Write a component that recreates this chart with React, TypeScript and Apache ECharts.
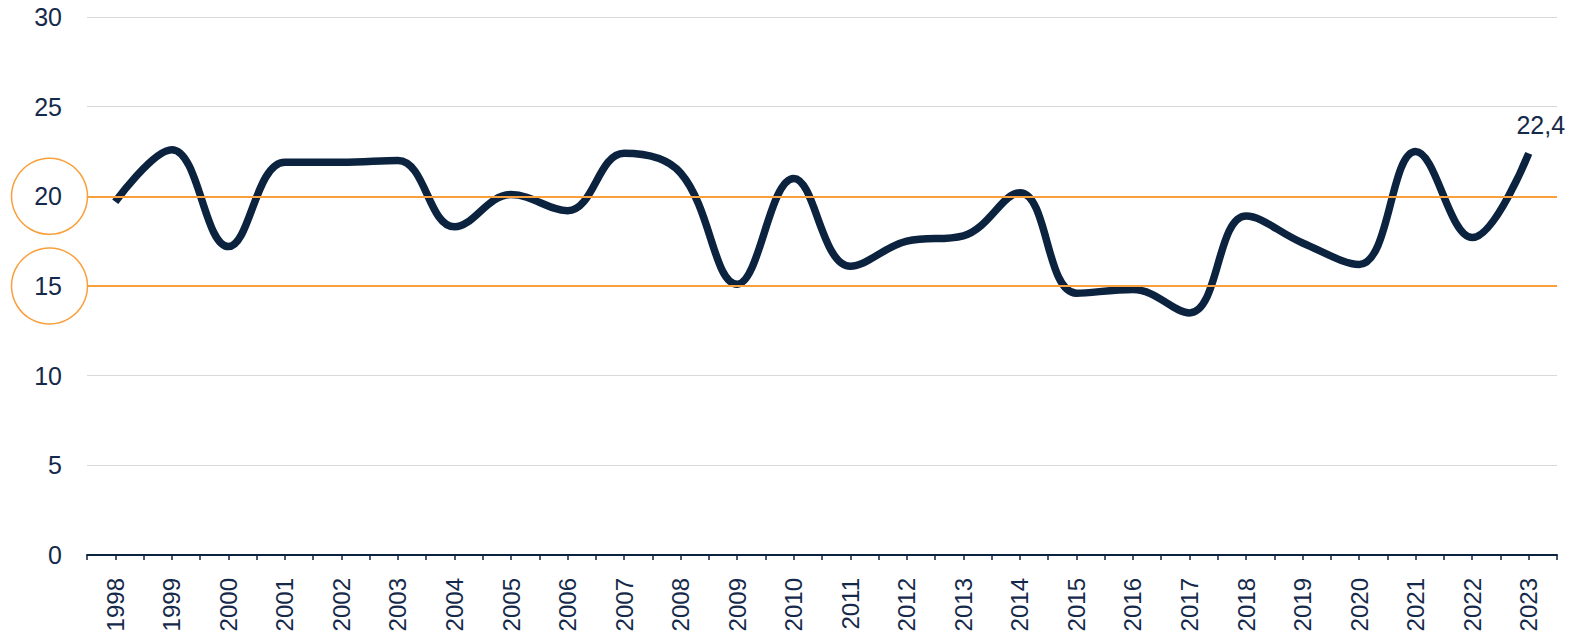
import React, { useEffect, useRef } from "react";
import * as echarts from "echarts";

const years = [
  "1998", "1999", "2000", "2001", "2002", "2003", "2004", "2005", "2006",
  "2007", "2008", "2009", "2010", "2011", "2012", "2013", "2014", "2015",
  "2016", "2017", "2018", "2019", "2020", "2021", "2022", "2023",
];
const values = [
  19.7, 22.6, 17.2, 21.9, 21.9, 22.0, 18.3, 20.1, 19.2, 22.4, 21.3, 15.1, 21.0,
  16.1, 17.5, 17.8, 20.2, 14.6, 14.8, 13.5, 18.9, 17.4, 16.2, 22.5, 17.7, 22.4,
];
const yMin = 0;
const yMax = 30;
const yStep = 5;
const thresholds = [20, 15];

const NAVY = "#0c2340";
const TEXT = "#15294a";
const ORANGE = "#f9a03c";
const FONT = "'Liberation Sans', Arial, sans-serif";

export default function App() {
  const ref = useRef<HTMLDivElement>(null);
  useEffect(() => {
    if (!ref.current) return;
    const chart = echarts.init(ref.current, undefined, { renderer: "svg" });
    const lastIdx = values.length - 1;
    chart.setOption({
      animation: false,
      grid: { left: 87, right: 18, top: 17, bottom: 83, containLabel: false },
      xAxis: [
        {
          type: "category",
          data: years,
          position: "bottom",
          boundaryGap: true,
          axisLine: { show: true, lineStyle: { color: NAVY, width: 2 } },
          axisTick: { show: true, length: 5, lineStyle: { color: NAVY, width: 1.5 } },
          axisLabel: {
            rotate: 90,
            margin: 23,
            fontSize: 24,
            fontFamily: FONT,
            color: TEXT,
            interval: 0,
          },
          splitLine: { show: false },
        },
        {
          type: "category",
          data: years,
          position: "bottom",
          boundaryGap: true,
          axisLine: { show: false },
          axisTick: {
            show: true,
            alignWithLabel: true,
            interval: 0,
            length: 5,
            lineStyle: { color: NAVY, width: 1.5 },
          },
          axisLabel: { show: false },
          splitLine: { show: false },
        },
      ],
      yAxis: {
        type: "value",
        min: yMin,
        max: yMax,
        interval: yStep,
        axisLine: { show: false },
        axisTick: { show: false },
        axisLabel: { fontSize: 25, fontFamily: FONT, color: TEXT, margin: 25 },
        splitLine: { lineStyle: { color: "#d9d9d9", width: 1 } },
      },
      series: [
        {
          type: "line",
          data: thresholds.map(() => null),
          silent: true,
          markLine: {
            silent: true,
            symbol: "none",
            label: { show: false },
            lineStyle: { color: ORANGE, width: 2, type: "solid" },
            data: thresholds.map((t) => ({ yAxis: t })),
          },
          z: 1,
        },
        {
          type: "line",
          data: values.map((v, i) =>
            i === lastIdx
              ? {
                  value: v,
                  label: {
                    show: true,
                    position: "top",
                    distance: 16,
                    offset: [12, 0],
                    fontSize: 25,
                    fontFamily: FONT,
                    color: TEXT,
                    formatter: (p: any) => Number(p.value).toFixed(1).replace(".", ","),
                  },
                }
              : v
          ),
          smooth: 0.4,
          showSymbol: true,
          symbol: "circle",
          symbolSize: 0,
          itemStyle: { color: NAVY },
          lineStyle: { color: NAVY, width: 7.5, cap: "butt" },
          z: 3,
        },
      ],
    });
    const graphics = thresholds.map((t) => {
      const cy = chart.convertToPixel({ yAxisIndex: 0 }, t) as number;
      return {
        type: "circle",
        shape: { cx: 49.5, cy, r: 38 },
        style: { fill: "none", stroke: ORANGE, lineWidth: 1.5 },
        silent: true,
        z: 10,
      };
    });
    chart.setOption({ graphic: graphics });
    return () => chart.dispose();
  }, []);
  return (
    <div
      ref={ref}
      style={{ position: "fixed", left: 0, top: 0, width: 1575, height: 638, background: "#fff" }}
    />
  );
}
